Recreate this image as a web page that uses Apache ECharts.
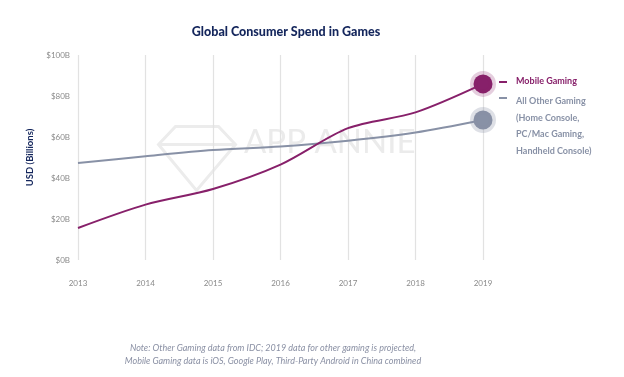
<!DOCTYPE html>
<html>
<head>
<meta charset="utf-8">
<script src="https://cdn.jsdelivr.net/npm/echarts@6/dist/echarts.min.js"></script>
<style>
  html, body { margin: 0; padding: 0; background: #fff; }
  #chart { width: 624px; height: 377px; }
</style>
</head>
<body>
<div id="chart"></div>
<script>
var years = ['2013', '2014', '2015', '2016', '2017', '2018', '2019']
var mobileGaming = [15.6, 27, 34.6, 46.5, 64.3, 72, 85.9]   // $B
var otherGaming = [47.3, 50.6, 53.6, 55.4, 58.2, 62.2, 68.3] // $B
var yTicks = [0, 20, 40, 60, 80, 100]

var MOBILE = '#87206a', OTHER = '#8891a6', NAVY = '#14265c'
var font = 'Lato'

// only the last point gets a marker with a halo
function withEndMarker(arr, color, halo){
	return arr.map(function(v, i){
		if(i < arr.length - 1) return v
		return {
			value: v, symbol: 'circle', symbolSize: 19,
			itemStyle: { color: color, borderColor: halo, borderWidth: 7 }
		}
	})
}

var chart = echarts.init(document.getElementById('chart'))
chart.setOption({
	animation: false,
	textStyle: { fontFamily: font },
	title: {
		text: 'Global Consumer Spend in Games',
		left: 281, top: 20, textAlign: 'center',
		textStyle: { color: NAVY, fontSize: 12.5, fontWeight: 900, fontFamily: font }
	},
	grid: { left: 78, right: 141, top: 55, bottom: 117 },
	xAxis: {
		type: 'category', data: years, boundaryGap: false,
		axisLine: { show: false }, axisTick: { show: false },
		axisLabel: { color: '#8a8a8a', fontSize: 8, margin: 19 },
		splitLine: { show: true, lineStyle: { color: '#e2e2e2', width: 1.2 } }
	},
	yAxis: {
		type: 'value', min: yTicks[0], max: yTicks[yTicks.length - 1], interval: 20,
		name: 'USD (Billions)', nameLocation: 'middle', nameGap: 42, nameRotate: 90,
		nameTextStyle: { color: NAVY, fontSize: 9.5, fontWeight: 'bold' },
		axisLine: { show: false }, axisTick: { show: false },
		axisLabel: { color: '#8a8a8a', fontSize: 8, margin: 8, formatter: function(v){ return '$' + v + 'B' } },
		splitLine: { show: false }
	},
	graphic: [
		// watermark
		{ type: 'polygon', left: 156, top: 124, z: 0,
		  shape: { points: [[0, 18], [17, 0], [60, 0], [77, 18], [38, 64]] },
		  style: { fill: 'none', stroke: '#ececec', lineWidth: 3 } },
		{ type: 'polyline', left: 156, top: 142, z: 0,
		  shape: { points: [[0, 0], [77, 0]] },
		  style: { stroke: '#ececec', lineWidth: 3 } },
		{ type: 'text', left: 244, top: 126, z: 0,
		  style: { text: 'APP ANNIE', fill: '#ebebeb', font: '33px ' + font } },
		// legend
		{ type: 'rect', left: 499, top: 81, shape: { width: 8, height: 2 }, style: { fill: MOBILE } },
		{ type: 'text', left: 516, top: 77,
		  style: { text: 'Mobile Gaming', fill: MOBILE, font: 'bold 9px ' + font } },
		{ type: 'rect', left: 499, top: 97, shape: { width: 8, height: 2 }, style: { fill: OTHER } },
		{ type: 'text', left: 516, top: 93,
		  style: { text: 'All Other Gaming\n(Home Console,\nPC/Mac Gaming,\nHandheld Console)',
		           fill: OTHER, font: 'bold 9px ' + font, lineHeight: 16.5 } },
		// note
		{ type: 'text', x: 273, y: 342,
		  style: { text: 'Note: Other Gaming data from IDC; 2019 data for other gaming is projected,\nMobile Gaming data is iOS, Google Play, Third-Party Android in China combined',
		           fill: '#8a90a4', font: 'italic 9px ' + font, align: 'center', lineHeight: 13 } }
	],
	series: [
		{
			name: 'All Other Gaming', type: 'line', smooth: 0.3, showSymbol: true, symbol: 'none',
			data: withEndMarker(otherGaming, OTHER, 'rgba(136,145,166,0.28)'),
			lineStyle: { color: OTHER, width: 2 }, itemStyle: { color: OTHER }, z: 3
		},
		{
			name: 'Mobile Gaming', type: 'line', smooth: 0.3, showSymbol: true, symbol: 'none',
			data: withEndMarker(mobileGaming, MOBILE, 'rgba(135,32,106,0.22)'),
			lineStyle: { color: MOBILE, width: 2 }, itemStyle: { color: MOBILE }, z: 4
		}
	]
})
</script>
</body>
</html>
